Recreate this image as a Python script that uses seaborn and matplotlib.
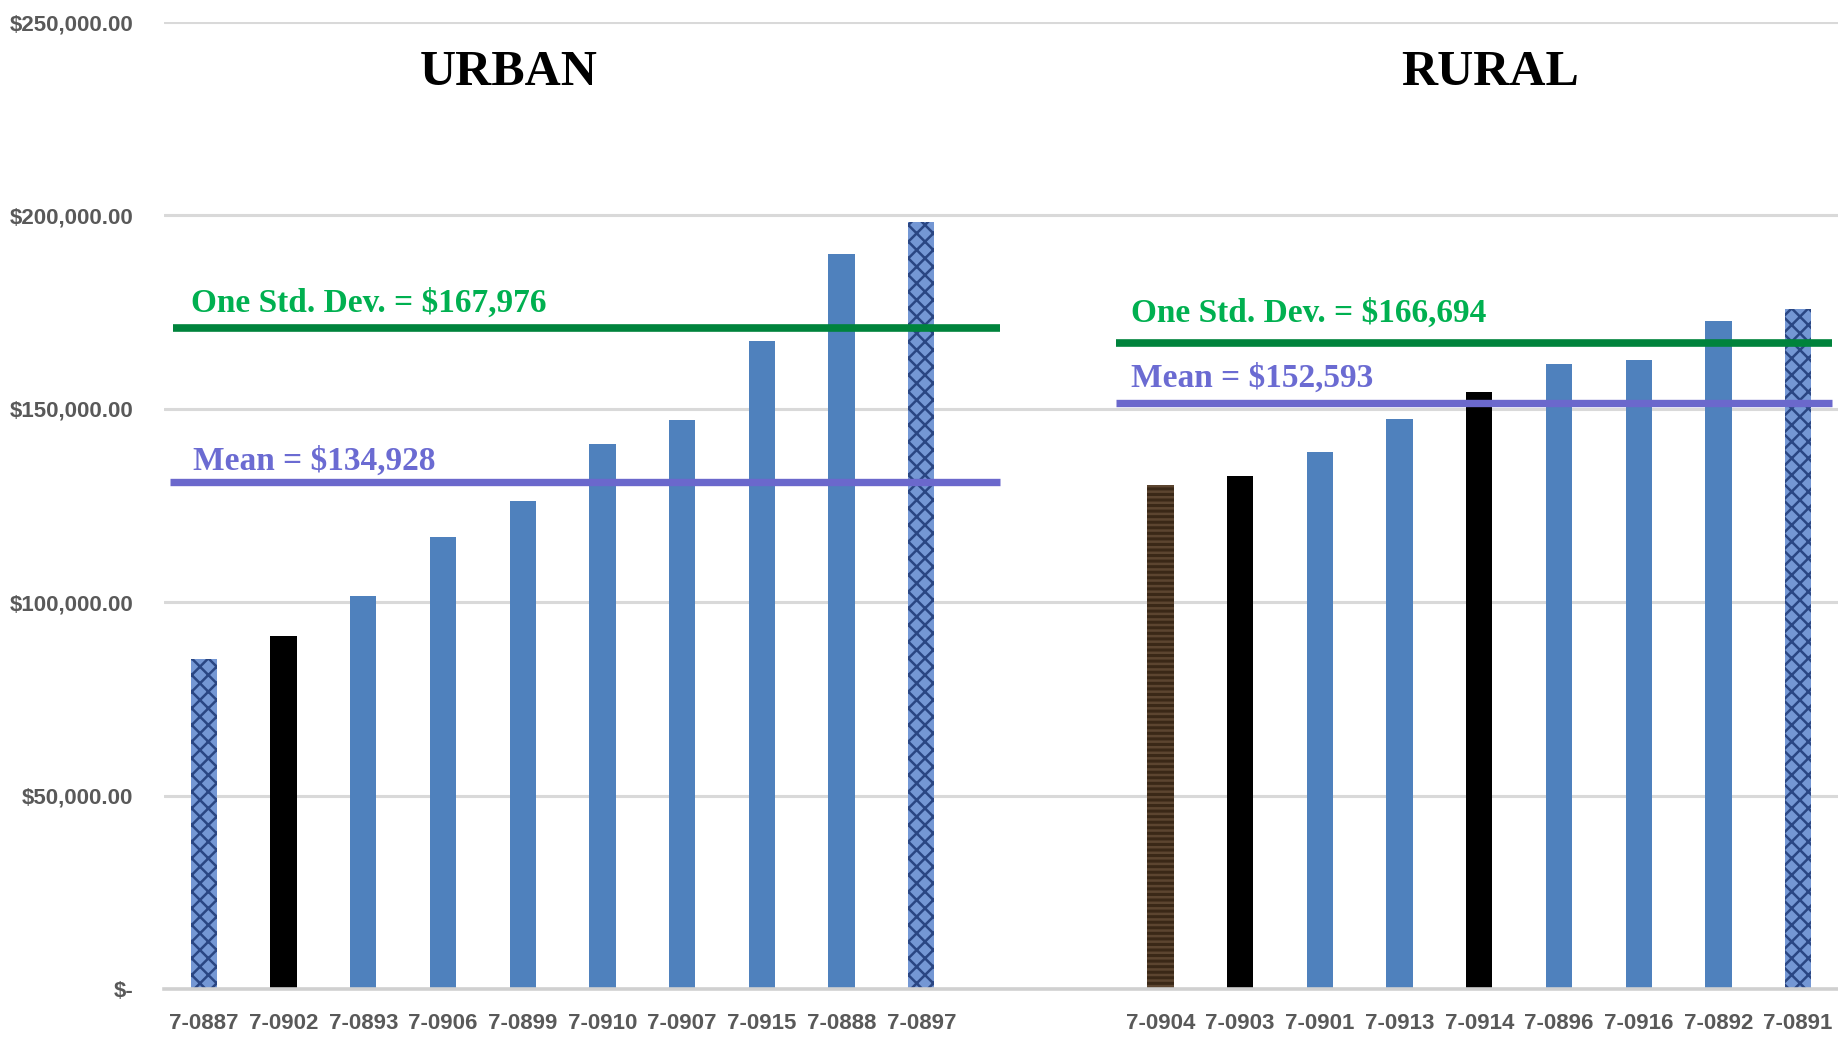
import matplotlib
matplotlib.use('Agg')
import matplotlib.pyplot as plt
import seaborn as sns
import pandas as pd

# Data
urban_ids = ['7-0887', '7-0902', '7-0893', '7-0906', '7-0899',
             '7-0910', '7-0907', '7-0915', '7-0888', '7-0897']
urban_values = [85200, 91200, 101700, 116900, 126100,
                141000, 147100, 167500, 190100, 198300]
urban_fill = ['denim', 'black', 'blue', 'blue', 'blue',
              'blue', 'blue', 'blue', 'blue', 'denim']

rural_ids = ['7-0904', '7-0903', '7-0901', '7-0913', '7-0914',
             '7-0896', '7-0916', '7-0892', '7-0891']
rural_values = [130300, 132600, 138900, 147400, 154400,
                161700, 162700, 172600, 175900]
rural_fill = ['wood', 'black', 'blue', 'blue', 'black',
              'blue', 'blue', 'blue', 'denim']

urban_mean_label = 'Mean = $134,928'
urban_sd_label = 'One Std. Dev. = $167,976'
rural_mean_label = 'Mean = $152,593'
rural_sd_label = 'One Std. Dev. = $166,694'

# where the reference draws its marker lines
urban_mean_line = 131000
urban_sd_line = 170800
rural_mean_line = 151400
rural_sd_line = 167000

gap = ['', ' ']  # two empty slots between the groups
order = urban_ids + gap + rural_ids

df = pd.DataFrame({
    'id': urban_ids + rural_ids,
    'value': urban_values + rural_values,
    'fill': urban_fill + rural_fill,
})

fill_colors = {'blue': '#4F81BD', 'black': '#000000',
               'denim': '#7497D4', 'wood': '#3A2817'}
hatch_style = {'denim': ('xx', '#2A4683'), 'wood': ('---', '#5C4530')}

sns.set_style('white')
plt.rcParams['font.family'] = ['Liberation Sans', 'DejaVu Sans']
plt.rcParams['hatch.linewidth'] = 1.8

fig = plt.figure(figsize=(18.38, 10.37), dpi=100)
ax = fig.add_axes([164 / 1838, 48 / 1037, 1 - 164 / 1838, 967 / 1037])

sns.barplot(data=df, x='id', y='value', hue='fill', palette=fill_colors,
            order=order, width=0.33, dodge=False, legend=False,
            saturation=1, ax=ax)

# textured bars
fill_of = dict(zip(df['id'], df['fill']))
for p in ax.patches:
    idx = int(round(p.get_x() + p.get_width() / 2))
    kind = fill_of.get(order[idx])
    p.set_linewidth(0)
    if kind in hatch_style:
        h, c = hatch_style[kind]
        p.set_hatch(h)
        p.set_edgecolor(c)

ax.set_xlim(-0.5, 20.5)
ax.set_ylim(0, 250000)
ax.set_yticks(range(0, 250001, 50000))
ax.yaxis.set_major_formatter(
    matplotlib.ticker.FuncFormatter(lambda v, _: '$-' if v == 0 else f'${v:,.2f}'))
ax.yaxis.grid(True, color='#D9D9D9', linewidth=2.2)
ax.set_axisbelow(True)
for s in ['top', 'left', 'right']:
    ax.spines[s].set_visible(False)
ax.spines['bottom'].set_color('#D0D0D0')
ax.spines['bottom'].set_linewidth(2.6)
ax.set_xlabel('')
ax.set_ylabel('')
ax.tick_params(axis='both', length=0)
ax.tick_params(axis='y', pad=22)
ax.tick_params(axis='x', pad=17)
for t in ax.get_yticklabels():
    t.set_fontsize(16)
    t.set_fontweight('bold')
    t.set_color('#595959')
for t in ax.get_xticklabels():
    t.set_fontsize(16)
    t.set_fontweight('bold')
    t.set_color('#595959')

# group titles
title_kw = dict(ha='center', va='center', family='Liberation Serif',
                fontweight='bold', fontsize=36, color='black')
ax.text(3.82, 236800, 'URBAN', **title_kw)
ax.text(16.14, 236800, 'RURAL', **title_kw)

# mean / std. dev. markers
green_line, green_text = '#00833C', '#00B050'
purple_line, purple_text = '#6B68CC', '#6B6BD2'
ax.hlines(urban_sd_line, -0.39, 9.99, color=green_line, linewidth=5.5)
ax.hlines(urban_mean_line, -0.42, 9.99, color=purple_line, linewidth=5.3)
ax.hlines(rural_sd_line, 11.44, 20.42, color=green_line, linewidth=5.5)
ax.hlines(rural_mean_line, 11.44, 20.42, color=purple_line, linewidth=5.3)

note_kw = dict(ha='left', va='center', family='Liberation Serif',
               fontweight='bold', fontsize=24)
ax.text(-0.16, 177200, urban_sd_label, color=green_text, **note_kw)
ax.text(-0.14, 136400, urban_mean_label, color=purple_text, **note_kw)
ax.text(11.63, 174800, rural_sd_label, color=green_text, **note_kw)
ax.text(11.63, 158000, rural_mean_label, color=purple_text, **note_kw)

fig.savefig('out.png', dpi=100)
